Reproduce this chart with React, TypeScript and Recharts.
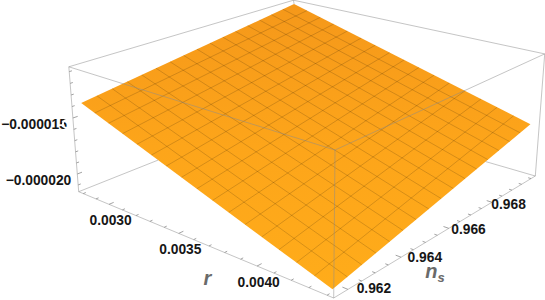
import React from 'react';
import { ComposedChart, Area, Line, XAxis, YAxis } from 'recharts';

// box ranges and ticks
const rRange = [0.002764, 0.004436];
const nsRange = [0.9615, 0.97023];
const zRange = [-21.62e-6, -10.59e-6];

const rMajor = [0.003, 0.0035, 0.004];
const rMinor = [0.0028, 0.0029, 0.0031, 0.0032, 0.0033, 0.0034, 0.0036, 0.0037, 0.0038, 0.0039, 0.0041, 0.0042, 0.0043, 0.0044];
const rLabels = ['0.0030', '0.0035', '0.0040'];

const nsMajor = [0.962, 0.964, 0.966, 0.968];
const nsMinor = [0.9625, 0.963, 0.9635, 0.9645, 0.965, 0.9655, 0.9665, 0.967, 0.9675, 0.9685, 0.969, 0.9695, 0.97];
const nsLabels = ['0.962', '0.964', '0.966', '0.968'];

const zMajor = [-15e-6, -20e-6];
const zMinor = [-21e-6, -19e-6, -18e-6, -17e-6, -16e-6, -14e-6, -13e-6, -12e-6, -11e-6];
const zLabels = ['\u22120.000015', '\u22120.000020'];

// region the surface covers, and its height at the four corners
const rSurface = [0.002797, 0.004403];
const nsSurface = [0.96167, 0.97006];
const zAtMinRMinNs = -13.72e-6;
const zAtMinRMaxNs = -10.77e-6;
const zAtMaxRMinNs = -21.37e-6;
const zAtMaxRMaxNs = -16.81e-6;

// mesh lines of the surface
const rMesh = [0.002897, 0.002998, 0.003098, 0.003199, 0.003299, 0.003399, 0.0035, 0.0036, 0.0037, 0.003801, 0.003901, 0.004001, 0.004102, 0.004202, 0.004303];
const nsMesh = [0.962194, 0.962718, 0.963243, 0.963767, 0.964291, 0.964816, 0.96534, 0.965865, 0.966389, 0.966913, 0.967438, 0.967962, 0.968486, 0.96901, 0.969535];

// camera: projected box corners and perspective weights
const origin = [333.7, 298];
const uEnd = [78.7, 191.7];
const vEnd = [535.3, 176];
const tEnd = [335, 150];
const weights = [1.2182, 1.2515, 0.95];

type Pt = { x: number; y: number };

const project = (r: number, ns: number, z: number): Pt => {
  const u = (rRange[1] - r) / (rRange[1] - rRange[0]);
  const v = (ns - nsRange[0]) / (nsRange[1] - nsRange[0]);
  const t = (z - zRange[0]) / (zRange[1] - zRange[0]);
  const w = 1 + u * (weights[0] - 1) + v * (weights[1] - 1) + t * (weights[2] - 1);
  const at = (i: number) =>
    origin[i] +
    u * (weights[0] * uEnd[i] - origin[i]) +
    v * (weights[1] * vEnd[i] - origin[i]) +
    t * (weights[2] * tEnd[i] - origin[i]);
  return { x: at(0) / w, y: at(1) / w };
};

const surfaceZ = (r: number, ns: number) => {
  const a = (r - rSurface[0]) / (rSurface[1] - rSurface[0]);
  const b = (ns - nsSurface[0]) / (nsSurface[1] - nsSurface[0]);
  return (
    (1 - a) * (1 - b) * zAtMinRMinNs +
    (1 - a) * b * zAtMinRMaxNs +
    a * (1 - b) * zAtMaxRMinNs +
    a * b * zAtMaxRMaxNs
  );
};

const onSurface = (r: number, ns: number) => project(r, ns, surfaceZ(r, ns));

const left = onSurface(rSurface[0], nsSurface[0]);
const back = onSurface(rSurface[0], nsSurface[1]);
const right = onSurface(rSurface[1], nsSurface[1]);
const front = onSurface(rSurface[1], nsSurface[0]);

const edgeY = (a: Pt, b: Pt, x: number) => a.y + ((b.y - a.y) * (x - a.x)) / (b.x - a.x);

const surfaceData = [left, back, front, right].map(({ x }) => ({
  x,
  range: [
    x <= back.x ? edgeY(left, back, x) : edgeY(back, right, x),
    x <= front.x ? edgeY(left, front, x) : edgeY(front, right, x),
  ],
}));

// where a box edge running behind the surface disappears under it
const hitEdge = (a: Pt, b: Pt, c: Pt, d: Pt): Pt => {
  const den = (b.x - a.x) * (d.y - c.y) - (b.y - a.y) * (d.x - c.x);
  const s = ((c.x - a.x) * (d.y - c.y) - (c.y - a.y) * (d.x - c.x)) / den;
  return { x: a.x + s * (b.x - a.x), y: a.y + s * (b.y - a.y) };
};

const [rLo, rHi] = rRange;
const [nLo, nHi] = nsRange;
const [zLo, zHi] = zRange;

const floorBack = project(rLo, nHi, zLo);
const floorLeft = project(rLo, nLo, zLo);
const floorRight = project(rHi, nHi, zLo);

const boxEdges = [
  [floorLeft, hitEdge(floorLeft, floorBack, left, front)],
  [floorRight, hitEdge(floorRight, floorBack, front, right)],
  [back, project(rLo, nHi, zHi)],
  [floorLeft, project(rHi, nLo, zLo)],
  [project(rHi, nLo, zLo), floorRight],
  [floorLeft, project(rLo, nLo, zHi)],
  [floorRight, project(rHi, nHi, zHi)],
  [project(rHi, nLo, zLo), project(rHi, nLo, zHi)],
  [project(rLo, nLo, zHi), project(rHi, nLo, zHi)],
  [project(rLo, nLo, zHi), project(rLo, nHi, zHi)],
  [project(rLo, nHi, zHi), project(rHi, nHi, zHi)],
  [project(rHi, nLo, zHi), project(rHi, nHi, zHi)],
];

const nsSpan = nHi - nLo;
const rSpan = rHi - rLo;
const tickSegments = [
  ...rMajor.map((r) => [project(r, nLo, zLo), project(r, nLo + nsSpan * 0.018, zLo)]),
  ...rMinor.map((r) => [project(r, nLo, zLo), project(r, nLo + nsSpan * 0.01, zLo)]),
  ...nsMajor.map((n) => [project(rHi, n, zLo), project(rHi - rSpan * 0.018, n, zLo)]),
  ...nsMinor.map((n) => [project(rHi, n, zLo), project(rHi - rSpan * 0.01, n, zLo)]),
  ...zMajor.map((z) => [project(rLo, nLo, z), project(rLo, nLo + nsSpan * 0.018, z)]),
  ...zMinor.map((z) => [project(rLo, nLo, z), project(rLo, nLo + nsSpan * 0.01, z)]),
];

const meshSegments = [
  ...rMesh.map((r) => [onSurface(r, nsSurface[0]), onSurface(r, nsSurface[1])]),
  ...nsMesh.map((n) => [onSurface(rSurface[0], n), onSurface(rSurface[1], n)]),
];

// ns labels drift closer to their ticks towards the far corner
const nsLabelOffset = [[26, -1.5], [23.7, -0.5], [19.7, 1], [16.7, 2]];

const tickText = [
  ...rMajor.map((r, i) => {
    const p = project(r, nLo, zLo);
    return { x: p.x + 1.6, y: p.y + 16, text: rLabels[i], anchor: 'middle' };
  }),
  ...nsMajor.map((n, i) => {
    const p = project(rHi, n, zLo);
    return { x: p.x + nsLabelOffset[i][0], y: p.y + nsLabelOffset[i][1], text: nsLabels[i], anchor: 'middle' };
  }),
  ...zMajor.map((z, i) => {
    const p = project(rLo, nLo, z);
    return { x: p.x - 6, y: p.y + 6, text: zLabels[i], anchor: 'end' };
  }),
];

const axisTitles = [
  { x: 207.3, y: 277.5, text: 'r', sub: '' },
  { x: 435, y: 270.5, text: 'n', sub: 's' },
];

const font = '"Liberation Sans", Arial, sans-serif';

const renderTick = (props: any) => {
  const { cx, cy, payload, index } = props;
  return (
    <text key={index} x={cx} y={cy} dy="0.35em" textAnchor={payload.anchor} fontFamily={font} fontWeight="bold" fontSize={13.8} fill="#161616">
      {payload.text}
    </text>
  );
};

const renderTitle = (props: any) => {
  const { cx, cy, payload, index } = props;
  return (
    <text key={index} x={cx} y={cy} dy="0.35em" textAnchor="middle" fontFamily={font} fontWeight="bold" fontStyle="italic" fontSize={20} fill="#6a6a6a">
      {payload.text}
      {payload.sub ? <tspan dy="4" fontSize={13}>{payload.sub}</tspan> : null}
    </text>
  );
};

export default function App() {
  return (
    <div style={{ position: 'absolute', left: 0, top: 0 }}>
      <ComposedChart width={545} height={300} data={[]} margin={{ top: 0, right: 0, bottom: 0, left: 0 }}>
        <defs>
          <linearGradient id="surfaceFill" x1="0" y1="0" x2="0" y2="1">
            <stop offset="0%" stopColor="#f5981a" />
            <stop offset="50%" stopColor="#fda51a" />
            <stop offset="100%" stopColor="#ffac1a" />
          </linearGradient>
        </defs>
        <XAxis hide type="number" dataKey="x" domain={[0, 545]} allowDataOverflow />
        <YAxis hide type="number" reversed domain={[0, 300]} width={0} allowDataOverflow />
        <Area data={surfaceData} dataKey="range" type="linear" stroke="none" fill="url(#surfaceFill)" fillOpacity={1} isAnimationActive={false} />
        {meshSegments.map((seg, i) => (
          <Line key={`mesh-${i}`} data={seg} dataKey="y" stroke="#000" strokeOpacity={0.2} strokeWidth={0.8} dot={false} isAnimationActive={false} />
        ))}
        {boxEdges.map((seg, i) => (
          <Line key={`edge-${i}`} data={seg} dataKey="y" stroke="#8c8c8c" strokeOpacity={0.5} strokeWidth={1} dot={false} isAnimationActive={false} />
        ))}
        {tickSegments.map((seg, i) => (
          <Line key={`tick-${i}`} data={seg} dataKey="y" stroke="#8c8c8c" strokeWidth={0.8} dot={false} isAnimationActive={false} />
        ))}
        <Line data={tickText} dataKey="y" stroke="none" dot={renderTick} isAnimationActive={false} />
        <Line data={axisTitles} dataKey="y" stroke="none" dot={renderTitle} isAnimationActive={false} />
      </ComposedChart>
    </div>
  );
}
